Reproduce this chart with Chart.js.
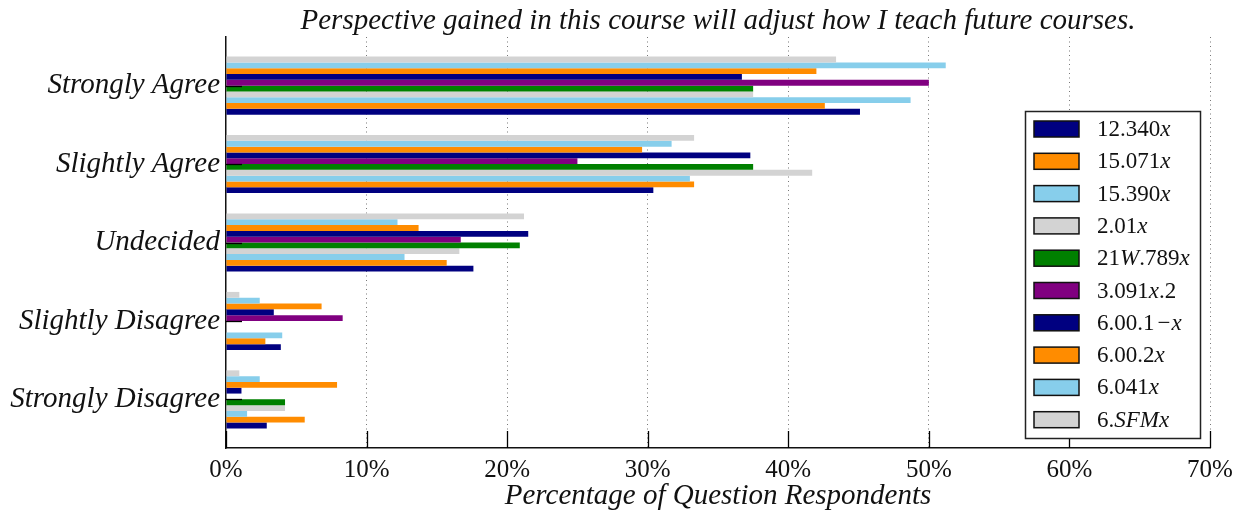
<!DOCTYPE html>
<html>
<head>
<meta charset="utf-8">
<script src="https://cdn.jsdelivr.net/npm/chart.js@4.4.0/dist/chart.umd.min.js"></script>
<style>
  html, body { margin: 0; padding: 0; background: #fff; }
  #wrap { width: 1254px; height: 513px; }
</style>
</head>
<body>
<div id="wrap"><canvas id="survey-chart" width="1254" height="513"></canvas></div>
<script>
(function () {
    'use strict';

    var chartTitle = 'Perspective gained in this course will adjust how I teach future courses.';
    var axisTitle = 'Percentage of Question Respondents';
    var categories = ['Strongly Agree', 'Slightly Agree', 'Undecided', 'Slightly Disagree', 'Strongly Disagree'];
    var courses = ['12.340x', '15.071x', '15.390x', '2.01x', '21W.789x', '3.091x.2', '6.00.1\u2212x', '6.00.2x', '6.041x', '6.SFMx'];
    var colors = ['#000080', '#ff8c00', '#87ceeb', '#d3d3d3', '#008000', '#800080', '#000080', '#ff8c00', '#87ceeb', '#d3d3d3'];
    var xTicks = [0, 10, 20, 30, 40, 50, 60, 70];

    // percent of respondents, order follows categories
    var pct12340 = [45.1, 30.4, 17.6, 3.9, 2.9];
    var pct15071 = [42.6, 33.3, 15.7, 2.8, 5.6];
    var pct15390 = [48.7, 33.0, 12.7, 4.0, 1.5];
    var pct201 = [37.5, 41.7, 16.6, 0, 4.2];
    var pct21W789 = [37.5, 37.5, 20.9, 0, 4.2];
    var pct3091 = [50.0, 25.0, 16.7, 8.3, 0];
    var pct6001 = [36.7, 37.3, 21.5, 3.4, 1.1];
    var pct6002 = [42.0, 29.6, 13.7, 6.8, 7.9];
    var pct6041 = [51.2, 31.7, 12.2, 2.4, 2.4];
    var pct6SFM = [43.4, 33.3, 21.2, 0.95, 0.95];
    var seriesValues = [pct12340, pct15071, pct15390, pct201, pct21W789, pct3091, pct6001, pct6002, pct6041, pct6SFM];

    var SERIF = '"Liberation Serif", "Times New Roman", serif';

    // letters in italic, digits and punctuation upright (like math mode)
    function drawMath(ctx, text, x, y, size) {
        var runs = text.match(/[A-Za-z]+|[^A-Za-z]+/g) || [];
        ctx.textAlign = 'left';
        ctx.textBaseline = 'middle';
        runs.forEach(function (r) {
            var italic = /[A-Za-z]/.test(r);
            ctx.font = (italic ? 'italic ' : '') + size + 'px ' + SERIF;
            var parts = r.split('\u2212');
            parts.forEach(function (p, k) {
                if (k > 0) {
                    x += 3;
                    ctx.fillText('\u2212', x, y);
                    x += ctx.measureText('\u2212').width + 1;
                }
                ctx.fillText(p, x, y);
                x += ctx.measureText(p).width;
            });
        });
    }

    var decor = {
        id: 'decor',
        afterDraw: function (chart) {
            var ctx = chart.ctx;
            var area = chart.chartArea;
            var xs = chart.scales.x;
            var ys = chart.scales.y;
            ctx.save();
            ctx.strokeStyle = '#000';
            ctx.lineWidth = 1.3;
            // inward tick marks
            xTicks.forEach(function (v) {
                var px = Math.round(xs.getPixelForValue(v)) + 0.5;
                ctx.beginPath();
                ctx.moveTo(px, area.bottom);
                ctx.lineTo(px, area.bottom - 17);
                ctx.stroke();
            });
            categories.forEach(function (c, i) {
                var py = Math.round(ys.getPixelForValue(i)) + 0.5;
                ctx.beginPath();
                ctx.moveTo(area.left, py);
                ctx.lineTo(area.left + 16, py);
                ctx.stroke();
            });

            // titles
            ctx.fillStyle = '#111';
            ctx.textAlign = 'center';
            ctx.textBaseline = 'middle';
            ctx.font = 'italic 29px ' + SERIF;
            ctx.fillText(chartTitle, (area.left + area.right) / 2, 21);
            ctx.font = 'italic 29px ' + SERIF;
            ctx.fillText(axisTitle, (area.left + area.right) / 2, 496);

            // legend box
            var bw = 175, bh = 327;
            var bx = area.right - 10 - bw, by = area.bottom - 10 - bh;
            ctx.fillStyle = '#fff';
            ctx.fillRect(bx, by, bw, bh);
            ctx.strokeStyle = '#222';
            ctx.lineWidth = 1.5;
            ctx.strokeRect(bx + 0.5, by + 0.5, bw, bh);
            courses.forEach(function (name, i) {
                var cy = by + 18 + i * 32.3;
                ctx.fillStyle = colors[i];
                ctx.fillRect(bx + 9, cy - 8, 45, 16);
                ctx.strokeStyle = '#111';
                ctx.lineWidth = 1.5;
                ctx.strokeRect(bx + 9, cy - 8, 45, 16);
                ctx.fillStyle = '#111';
                drawMath(ctx, name, bx + 72, cy + 1, 23);
            });
            ctx.restore();
        }
    };

    var datasets = courses.map(function (name, i) {
        return {
            label: name,
            data: seriesValues[i].map(function (v, j) { return { x: v, y: j }; }),
            backgroundColor: colors[i],
            borderWidth: 0,
            order: courses.length - 1 - i
        };
    });

    new Chart(document.getElementById('survey-chart'), {
        type: 'bar',
        data: { datasets: datasets },
        plugins: [decor],
        options: {
            indexAxis: 'y',
            responsive: false,
            animation: false,
            categoryPercentage: 0.74,
            barPercentage: 1.0,
            layout: { padding: { top: 37, right: 44, left: 0, bottom: 0 } },
            plugins: { legend: { display: false }, title: { display: false }, tooltip: { enabled: false } },
            scales: {
                x: {
                    type: 'linear',
                    min: 0,
                    max: 70,
                    z: 1,
                    afterFit: function (s) { s.height = 65; },
                    afterBuildTicks: function (s) { s.ticks = xTicks.map(function (v) { return { value: v }; }); },
                    grid: {
                        drawTicks: false,
                        color: function (c) { return c.tick && c.tick.value === 0 ? 'rgba(0,0,0,0)' : '#777'; },
                        lineWidth: 1
                    },
                    border: { display: true, color: '#111', width: 1.5, dash: [1, 3.5] },
                    ticks: {
                        padding: 7,
                        color: '#111',
                        font: { family: SERIF, size: 25 },
                        callback: function (v) { return v + '%'; }
                    }
                },
                y: {
                    type: 'linear',
                    min: -0.62,
                    max: 4.62,
                    reverse: true,
                    offset: false,
                    afterFit: function (s) { s.width = 226; },
                    afterBuildTicks: function (s) { s.ticks = categories.map(function (c, i) { return { value: i }; }); },
                    border: { display: true, color: '#111', width: 1.5 },
                    grid: { display: false, drawTicks: false, offset: false },
                    ticks: {
                        padding: 6,
                        color: '#111',
                        font: { family: SERIF, size: 29, style: 'italic' },
                        callback: function (v) { return categories[v] || ''; }
                    }
                }
            }
        }
    });
})();
</script>
</body>
</html>
